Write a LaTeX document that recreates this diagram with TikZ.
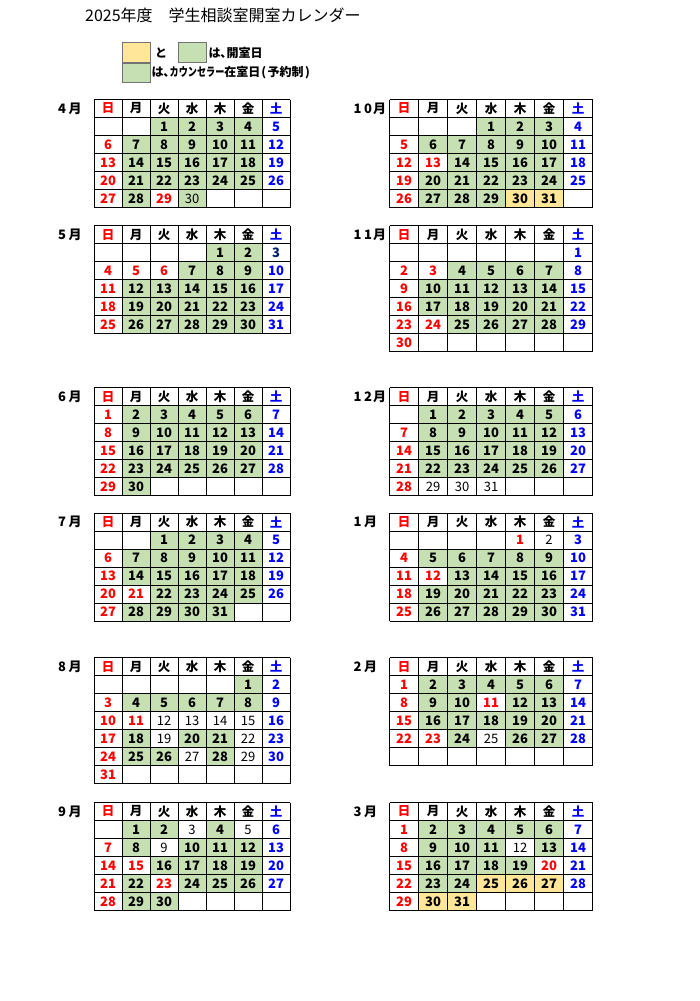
\documentclass[tikz,border=0pt]{standalone}
\usepackage{fontspec}
\setmainfont{Noto Sans CJK JP}
\definecolor{cgreen}{RGB}{198,224,180}
\definecolor{cyellow}{RGB}{255,230,153}
\definecolor{cred}{RGB}{255,0,0}
\definecolor{cblue}{RGB}{0,0,255}
\definecolor{cnavy}{RGB}{0,32,110}
\tikzset{
  daycell/.style={inner sep=0pt, minimum height=18pt, text=black,
    font=\fontsize{13}{14}\selectfont\bfseries},
  hdcell/.style={inner sep=0pt, minimum height=18pt, text=black,
    font=\fontsize{12.5}{14}\selectfont\bfseries},
  cg/.style={fill=cgreen},
  cy/.style={fill=cyellow},
  cr/.style={text=cred},
  cb/.style={text=cblue},
  cn/.style={text=cnavy},
  ck/.style={},
  cw/.style={font=\fontsize{13}{14}\selectfont\mdseries},
  cgw/.style={fill=cgreen, font=\fontsize{13}{14}\selectfont\mdseries},
  gridline/.style={line width=0.9pt, draw=black},
  lbl/.style={inner sep=0pt, anchor=west, font=\fontsize{13}{14}\selectfont\bfseries},
  legbox/.style={draw=black!55, line width=0.6pt, inner sep=0pt},
  legtxt/.style={inner sep=0pt, anchor=west, font=\fontsize{12}{13}\selectfont\bfseries},
}
% #1 name, #2 x0, #3 y0, #4 cell width, #5 rows, #6 start col, #7 list, #8 label
\newcommand\calmonth[8]{%
  \begin{scope}[shift={(#2,#3)}]
    \foreach \dnum/\dsty in {#7} {
      \pgfmathtruncatemacro\cc{mod(#6+\dnum-1,7)}
      \pgfmathtruncatemacro\rr{floor((#6+\dnum-1)/7)+1}
      \node[daycell, minimum width=#4pt, \dsty] (#1-\dnum) at ({(\cc+0.5)*#4},{(\rr+0.5)*18}) {\dnum};
    }
    \foreach \hw/\hs [count=\k from 0] in {日/cr,月/ck,火/ck,水/ck,木/ck,金/ck,土/cb} {
      \node[hdcell, minimum width=#4pt, \hs] (#1-h\k) at ({(\k+0.5)*#4},9) {\hw};
    }
    \pgfmathtruncatemacro\nr{#5+1}
    \foreach \i in {0,...,7} {\draw[gridline] ({\i*#4},0) -- ({\i*#4},{\nr*18});}
    \foreach \j in {0,...,\nr} {\draw[gridline] (0,{\j*18}) -- ({7*#4},{\j*18});}
    \node[lbl] (#1-lab) at (-36,9) {#8};
  \end{scope}
}
\begin{document}
\begin{tikzpicture}[x=1pt,y=-1pt]
\useasboundingbox[fill=white] (0,0) rectangle (700,1001);
% title
\node[inner sep=0pt, anchor=west, font=\fontsize{16}{18}\selectfont] (title) at (85,15.5) {2025年度　学生相談室開室カレンダー};
% legend
\node[legbox, fill=cyellow, minimum width=27.5pt, minimum height=20pt] (legY) at (136.25,52.5) {};
\node[legbox, fill=cgreen, minimum width=27.5pt, minimum height=20pt] (legG1) at (192.25,52.5) {};
\node[legbox, fill=cgreen, minimum width=27.5pt, minimum height=19.5pt] (legG2) at (136.25,72.75) {};
\node[legtxt] (legT1) at (155,52.5) {と};
\node[legtxt] (legT2) at (208.5,52.5) {は､開室日};
\node[legtxt] (legT3) at (151.5,72.5) {は､\scalebox{0.76}[1]{カウンセラー}在室日\hspace{1pt}(\hspace{1.5pt}予約制\hspace{1.5pt})};

% April
\calmonth{apr}{94}{99.5}{28}{5}{2}{1/cg,2/cg,3/cg,4/cg,5/cb,
6/cr,7/cg,8/cg,9/cg,10/cg,11/cg,12/cb,
13/cr,14/cg,15/cg,16/cg,17/cg,18/cg,19/cb,
20/cr,21/cg,22/cg,23/cg,24/cg,25/cg,26/cb,
27/cr,28/cg,29/cr,30/cgw}{4\hspace{2.5pt}月}
% May
\calmonth{may}{94}{225.7}{28}{5}{4}{1/cg,2/cg,3/cn,
4/cr,5/cr,6/cr,7/cg,8/cg,9/cg,10/cb,
11/cr,12/cg,13/cg,14/cg,15/cg,16/cg,17/cb,
18/cr,19/cg,20/cg,21/cg,22/cg,23/cg,24/cb,
25/cr,26/cg,27/cg,28/cg,29/cg,30/cg,31/cb}{5\hspace{2.5pt}月}
% June
\calmonth{jun}{94}{387.7}{28}{5}{0}{1/cr,2/cg,3/cg,4/cg,5/cg,6/cg,7/cb,
8/cr,9/cg,10/cg,11/cg,12/cg,13/cg,14/cb,
15/cr,16/cg,17/cg,18/cg,19/cg,20/cg,21/cb,
22/cr,23/cg,24/cg,25/cg,26/cg,27/cg,28/cb,
29/cr,30/cg}{6\hspace{2.5pt}月}
% July
\calmonth{jul}{94}{513}{28}{5}{2}{1/cg,2/cg,3/cg,4/cg,5/cb,
6/cr,7/cg,8/cg,9/cg,10/cg,11/cg,12/cb,
13/cr,14/cg,15/cg,16/cg,17/cg,18/cg,19/cb,
20/cr,21/cr,22/cg,23/cg,24/cg,25/cg,26/cb,
27/cr,28/cg,29/cg,30/cg,31/cg}{7\hspace{2.5pt}月}
% August
\calmonth{aug}{94}{657.7}{28}{6}{5}{1/cg,2/cb,
3/cr,4/cg,5/cg,6/cg,7/cg,8/cg,9/cb,
10/cr,11/cr,12/cw,13/cw,14/cw,15/cw,16/cb,
17/cr,18/cg,19/cw,20/cg,21/cg,22/cw,23/cb,
24/cr,25/cg,26/cg,27/cw,28/cg,29/cw,30/cb,
31/cr}{8\hspace{2.5pt}月}
% September
\calmonth{sep}{94}{802.5}{28}{5}{1}{1/cg,2/cg,3/cw,4/cg,5/cw,6/cb,
7/cr,8/cg,9/cw,10/cg,11/cg,12/cg,13/cb,
14/cr,15/cr,16/cg,17/cg,18/cg,19/cg,20/cb,
21/cr,22/cg,23/cr,24/cg,25/cg,26/cg,27/cb,
28/cr,29/cg,30/cg}{9\hspace{2.5pt}月}
% October
\calmonth{oct}{389.5}{99.5}{29}{5}{3}{1/cg,2/cg,3/cg,4/cb,
5/cr,6/cg,7/cg,8/cg,9/cg,10/cg,11/cb,
12/cr,13/cr,14/cg,15/cg,16/cg,17/cg,18/cb,
19/cr,20/cg,21/cg,22/cg,23/cg,24/cg,25/cb,
26/cr,27/cg,28/cg,29/cg,30/cy,31/cy}{1\hspace{2.5pt}0\hspace{1pt}月}
% November
\calmonth{nov}{389.5}{225.7}{29}{6}{6}{1/cb,
2/cr,3/cr,4/cg,5/cg,6/cg,7/cg,8/cb,
9/cr,10/cg,11/cg,12/cg,13/cg,14/cg,15/cb,
16/cr,17/cg,18/cg,19/cg,20/cg,21/cg,22/cb,
23/cr,24/cr,25/cg,26/cg,27/cg,28/cg,29/cb,
30/cr}{1\hspace{2.5pt}1\hspace{1pt}月}
% December
\calmonth{dec}{389.5}{387.7}{29}{5}{1}{1/cg,2/cg,3/cg,4/cg,5/cg,6/cb,
7/cr,8/cg,9/cg,10/cg,11/cg,12/cg,13/cb,
14/cr,15/cg,16/cg,17/cg,18/cg,19/cg,20/cb,
21/cr,22/cg,23/cg,24/cg,25/cg,26/cg,27/cb,
28/cr,29/cw,30/cw,31/cw}{1\hspace{2.5pt}2\hspace{1pt}月}
% January
\calmonth{jan}{389.5}{513}{29}{5}{4}{1/cr,2/cw,3/cb,
4/cr,5/cg,6/cg,7/cg,8/cg,9/cg,10/cb,
11/cr,12/cr,13/cg,14/cg,15/cg,16/cg,17/cb,
18/cr,19/cg,20/cg,21/cg,22/cg,23/cg,24/cb,
25/cr,26/cg,27/cg,28/cg,29/cg,30/cg,31/cb}{1\hspace{2.5pt}月}
% February
\calmonth{feb}{389.5}{657.7}{29}{5}{0}{1/cr,2/cg,3/cg,4/cg,5/cg,6/cg,7/cb,
8/cr,9/cg,10/cg,11/cr,12/cg,13/cg,14/cb,
15/cr,16/cg,17/cg,18/cg,19/cg,20/cg,21/cb,
22/cr,23/cr,24/cg,25/cw,26/cg,27/cg,28/cb}{2\hspace{2.5pt}月}
% March
\calmonth{mar}{389.5}{802.5}{29}{5}{0}{1/cr,2/cg,3/cg,4/cg,5/cg,6/cg,7/cb,
8/cr,9/cg,10/cg,11/cg,12/cw,13/cg,14/cb,
15/cr,16/cg,17/cg,18/cg,19/cg,20/cr,21/cb,
22/cr,23/cg,24/cg,25/cy,26/cy,27/cy,28/cb,
29/cr,30/cy,31/cy}{3\hspace{2.5pt}月}
\end{tikzpicture}
\end{document}
